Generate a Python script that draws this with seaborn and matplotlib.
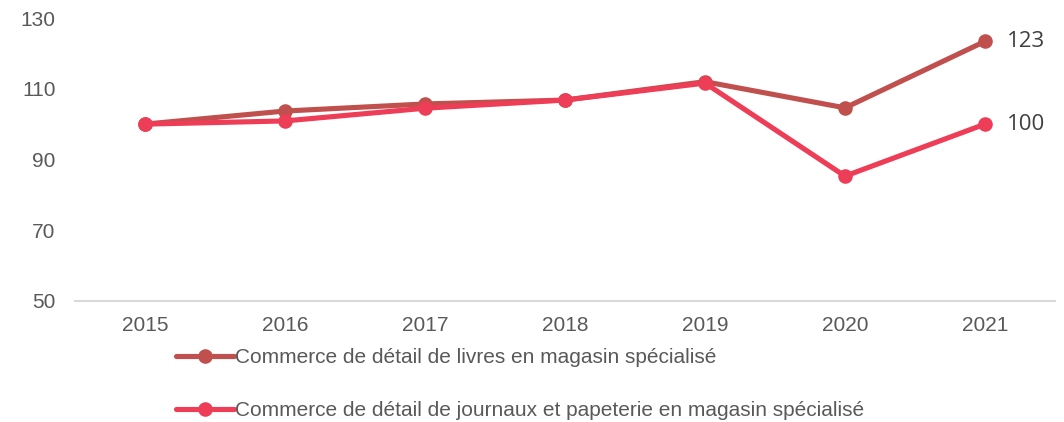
import pandas as pd
import numpy as np
import matplotlib.pyplot as plt
import seaborn as sns

years = [2015, 2016, 2017, 2018, 2019, 2020, 2021]
livres = [100, 103.7, 105.7, 106.8, 112.0, 104.6, 123.4]
journaux = [100, 100.9, 104.5, 106.8, 111.6, 85.3, 100.0]
series_names = ["Commerce de détail de livres en magasin spécialisé",
                "Commerce de détail de journaux et papeterie en magasin spécialisé"]
end_labels = ["123", "100"]
yticks = [50, 70, 90, 110, 130]

df = pd.concat([
    pd.DataFrame({'Year': years, 'Index': livres, 'Series': series_names[0]}),
    pd.DataFrame({'Year': years, 'Index': journaux, 'Series': series_names[1]}),
], ignore_index=True)

colors = {series_names[0]: '#C0504D', series_names[1]: '#EE3D56'}
gray = '#595959'

sns.set_theme(style="white")
plt.rcParams['font.family'] = ['Liberation Sans', 'DejaVu Sans']

fig = plt.figure(figsize=(10.64, 4.22), dpi=100)
ax = fig.add_axes([75/1064, 1-301/422, 980/1064, 283/422])
sns.lineplot(data=df, x='Year', y='Index', hue='Series', palette=colors,
             marker='o', markersize=10.5, markeredgewidth=0, lw=3.7, ax=ax)

ax.set_xlim(2014.5, 2021.5)
ax.set_ylim(50, 130)
ax.set_yticks(yticks)
ax.set_xticks(years)
ax.tick_params(axis='both', labelsize=15, colors=gray, length=0)
ax.tick_params(axis='x', pad=11)
ax.tick_params(axis='y', pad=14)
for s in ['top', 'right', 'left']:
    ax.spines[s].set_visible(False)
ax.spines['bottom'].set_color('#D9D9D9')
ax.spines['bottom'].set_linewidth(1.5)
ax.set_xlabel('')
ax.set_ylabel('')

for vals, lab in zip([livres, journaux], end_labels):
    ax.annotate(lab, (years[-1], vals[-1]), xytext=(16, 0), textcoords='offset points',
                va='center', ha='left', fontsize=16, color='#404040',
                family=['Open Sans', 'DejaVu Sans'])

handles, labels = ax.get_legend_handles_labels()
ax.legend_.remove()
leg = fig.legend(handles, labels, loc='upper left', bbox_to_anchor=(168/1064, 1-340/422),
                 frameon=False, fontsize=15, handlelength=2.75, handletextpad=0.05,
                 labelspacing=1.62, borderaxespad=0)
for t in leg.get_texts():
    t.set_color(gray)

plt.savefig('out.png', dpi=100)
plt.close()
